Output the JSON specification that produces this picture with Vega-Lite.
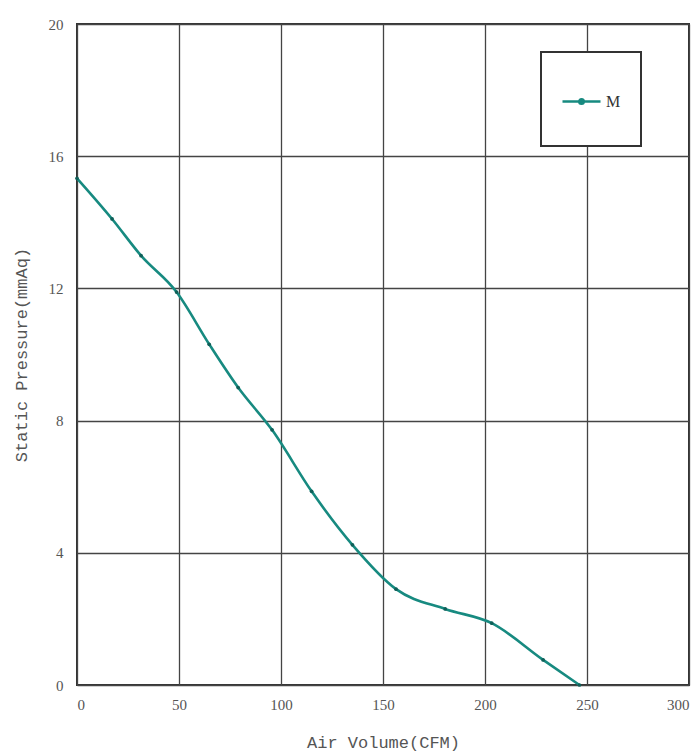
{
  "$schema": "https://vega.github.io/schema/vega-lite/v6.json",
  "width": 612,
  "height": 661,
  "autosize": {"type": "none"},
  "padding": {"left": 77, "top": 24, "right": 10, "bottom": 69},
  "background": "white",
  "config": {
    "view": {"stroke": "#333333", "strokeWidth": 2},
    "axis": {
      "labelFont": "Liberation Serif",
      "labelFontSize": 15,
      "labelColor": "#555555",
      "titleFont": "Liberation Mono",
      "titleFontSize": 17,
      "titleFontWeight": "normal",
      "titleColor": "#555555",
      "gridColor": "#444444",
      "gridWidth": 1.3,
      "gridOpacity": 1,
      "domain": false,
      "ticks": false
    }
  },
  "data": {
    "values": [
      {"cfm": 0, "p": 15.33, "s": "M"},
      {"cfm": 17.2, "p": 14.1, "s": "M"},
      {"cfm": 31.4, "p": 12.99, "s": "M"},
      {"cfm": 48.8, "p": 11.89, "s": "M"},
      {"cfm": 64.8, "p": 10.31, "s": "M"},
      {"cfm": 79.0, "p": 9.0, "s": "M"},
      {"cfm": 95.6, "p": 7.72, "s": "M"},
      {"cfm": 115.0, "p": 5.86, "s": "M"},
      {"cfm": 135.0, "p": 4.24, "s": "M"},
      {"cfm": 156.4, "p": 2.9, "s": "M"},
      {"cfm": 180.5, "p": 2.3, "s": "M"},
      {"cfm": 203.3, "p": 1.87, "s": "M"},
      {"cfm": 228.5, "p": 0.76, "s": "M"},
      {"cfm": 246.3, "p": 0, "s": "M"}
    ]
  },
  "layer": [
    {
      "mark": {"type": "line", "interpolate": "monotone", "strokeWidth": 2.6},
      "encoding": {
        "x": {
          "field": "cfm", "type": "quantitative",
          "scale": {"domain": [0, 300], "nice": false},
          "axis": {"values": [0, 50, 100, 150, 200, 250, 300], "title": "Air Volume(CFM)", "labelPadding": 12, "titlePadding": 22}
        },
        "y": {
          "field": "p", "type": "quantitative",
          "scale": {"domain": [0, 20], "nice": false},
          "axis": {"values": [0, 4, 8, 12, 16, 20], "title": "Static Pressure(mmAq)", "labelPadding": 14, "titlePadding": 18}
        },
        "color": {
          "field": "s", "type": "nominal",
          "scale": {"range": ["#178a80"]},
          "legend": {
            "orient": "none",
            "legendX": 464,
            "legendY": 28,
            "title": null,
            "symbolType": "M0,-1.4M0,1.5M-1,0.47H1M-0.12,0.47A0.12,0.12,0,1,1,0.12,0.47A0.12,0.12,0,1,1,-0.12,0.47",
            "symbolSize": 1444,
            "symbolStrokeWidth": 2.5,
            "symbolFillColor": "#178a80",
            "symbolStrokeColor": "#178a80",
            "labelFont": "Liberation Serif",
            "labelFontSize": 16,
            "labelColor": "#333333",
            "labelOffset": 4,
            "padding": 20,
            "strokeColor": "#333333",
            "fillColor": "white",
            "encode": {
              "legend": {"update": {"strokeWidth": {"value": 2}}},
              "labels": {"update": {"dy": {"value": 9}}}
            }
          }
        }
      }
    },
    {
      "mark": {"type": "point", "filled": true, "size": 14, "color": "#0f5f58", "opacity": 1},
      "encoding": {
        "x": {"field": "cfm", "type": "quantitative"},
        "y": {"field": "p", "type": "quantitative"}
      }
    }
  ]
}
